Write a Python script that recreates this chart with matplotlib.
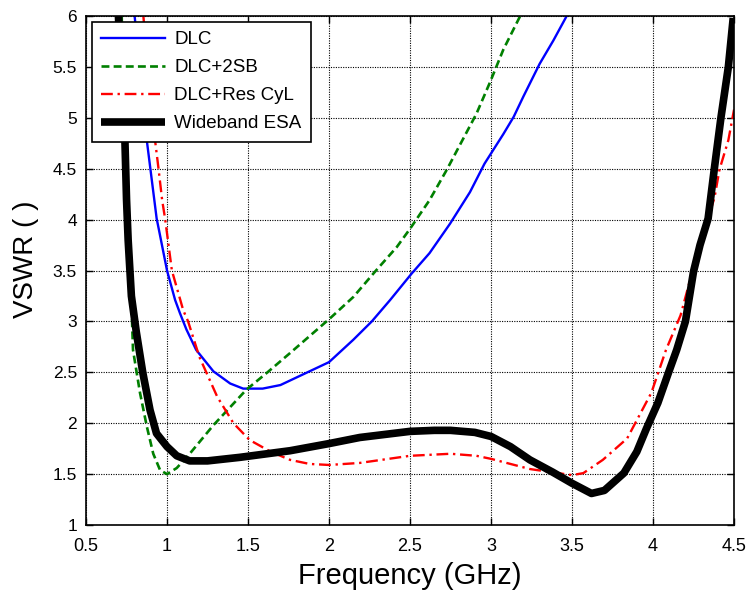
import matplotlib
matplotlib.use("Agg")
import matplotlib.pyplot as plt

plt.rcParams["font.family"] = ["Liberation Sans", "DejaVu Sans"]

# DLC
dlc_f = [0.80, 0.875, 0.936, 0.95, 1.00, 1.05, 1.08, 1.12, 1.18, 1.286, 1.39, 1.47,
         1.59, 1.70, 1.76, 1.88, 2.00, 2.15, 2.264, 2.377, 2.51, 2.62, 2.747, 2.87,
         2.96, 3.076, 3.14, 3.20, 3.30, 3.385, 3.467]
dlc_v = [6.00, 4.78, 4.01, 3.90, 3.50, 3.21, 3.08, 2.92, 2.72, 2.51, 2.39, 2.34,
         2.34, 2.375, 2.42, 2.51, 2.60, 2.82, 3.00, 3.21, 3.47, 3.67, 3.96, 4.27,
         4.55, 4.84, 5.01, 5.21, 5.53, 5.76, 6.00]

# DLC+2SB
sb_f = [0.72, 0.74, 0.76, 0.78, 0.79, 0.833, 0.875, 0.915, 0.957, 1.00, 1.06, 1.14,
        1.286, 1.49, 1.62, 1.76, 2.006, 2.15, 2.29, 2.418, 2.50, 2.62, 2.727, 2.83,
        2.91, 2.994, 3.076, 3.18]
sb_v = [6.00, 5.00, 4.00, 3.20, 2.72, 2.30, 1.97, 1.70, 1.54, 1.50, 1.56, 1.70,
        1.98, 2.33, 2.50, 2.69, 3.03, 3.24, 3.50, 3.73, 3.91, 4.19, 4.49, 4.80,
        5.04, 5.35, 5.67, 6.00]

# DLC+Res CyL
res_f = [0.854, 0.89, 0.926, 0.946, 0.97, 0.988, 1.03, 1.10, 1.13, 1.20, 1.31, 1.41,
         1.51, 1.64, 1.76, 1.88, 2.00, 2.19, 2.50, 2.75, 2.91, 3.00, 3.24, 3.50,
         3.57, 3.69, 3.84, 3.99, 4.08, 4.17, 4.27, 4.38, 4.41, 4.465, 4.50]
res_v = [6.00, 5.30, 4.78, 4.52, 4.19, 4.01, 3.50, 3.11, 3.00, 2.65, 2.26, 2.00,
         1.835, 1.72, 1.64, 1.60, 1.59, 1.61, 1.68, 1.70, 1.68, 1.65, 1.55, 1.49,
         1.51, 1.64, 1.85, 2.30, 2.72, 3.06, 3.65, 4.22, 4.49, 4.78, 5.08]

# Wideband ESA
esa_f = [0.70, 0.72, 0.74, 0.75, 0.76, 0.78, 0.81, 0.85, 0.895, 0.935, 1.00, 1.06,
         1.14, 1.25, 1.45, 1.76, 2.00, 2.19, 2.50, 2.65, 2.75, 2.90, 3.00, 3.12,
         3.24, 3.38, 3.50, 3.62, 3.70, 3.82, 3.90, 3.96, 4.03, 4.094, 4.146, 4.20,
         4.25, 4.29, 4.34, 4.38, 4.42, 4.465, 4.495]
esa_v = [6.00, 5.35, 4.78, 4.20, 3.80, 3.25, 2.90, 2.50, 2.13, 1.90, 1.77, 1.68,
         1.63, 1.63, 1.665, 1.73, 1.80, 1.86, 1.92, 1.93, 1.93, 1.91, 1.87, 1.77,
         1.64, 1.52, 1.41, 1.31, 1.34, 1.51, 1.72, 1.95, 2.20, 2.49, 2.72, 3.00,
         3.49, 3.75, 4.01, 4.52, 5.01, 5.50, 5.98]

x_ticks = [0.5, 1, 1.5, 2, 2.5, 3, 3.5, 4, 4.5]
x_labels = ["0.5", "1", "1.5", "2", "2.5", "3", "3.5", "4", "4.5"]
y_ticks = [1, 1.5, 2, 2.5, 3, 3.5, 4, 4.5, 5, 5.5, 6]
y_labels = ["1", "1.5", "2", "2.5", "3", "3.5", "4", "4.5", "5", "5.5", "6"]

fig = plt.figure(figsize=(7.5, 5.95), dpi=100)
ax = fig.add_axes([0.1147, 0.1176, 0.864, 0.8555])

ax.plot(dlc_f, dlc_v, color="blue", lw=1.7, label="DLC")
ax.plot(sb_f, sb_v, color="green", lw=1.9, ls=(0, (3, 1.6)), label="DLC+2SB")
ax.plot(res_f, res_v, color="red", lw=1.7, ls=(0, (5, 2, 1, 2)), label="DLC+Res CyL")
ax.plot(esa_f, esa_v, color="black", lw=5.5, solid_joinstyle="round",
        solid_capstyle="butt", label="Wideband ESA")

ax.set_xlim(0.5, 4.5)
ax.set_ylim(1, 6)
ax.set_xticks(x_ticks)
ax.set_xticklabels(x_labels, fontsize=13)
ax.set_yticks(y_ticks)
ax.set_yticklabels(y_labels, fontsize=12.5)
ax.tick_params(direction="in", top=True, right=True, length=5, width=1)
ax.tick_params(axis="x", pad=9.5)
ax.tick_params(axis="y", pad=6.5)
ax.grid(True, color="black", ls=(0, (1, 1.2)), lw=0.8)
for s in ax.spines.values():
    s.set_linewidth(1.2)

ax.set_xlabel("Frequency (GHz)", fontsize=21, labelpad=5)
ax.set_ylabel("VSWR ( )", fontsize=20)
ax.yaxis.set_label_coords(-0.072, 0.523)

leg = ax.legend(loc="upper left", fontsize=13.5, handlelength=3.4, labelspacing=0.58,
                borderaxespad=0.3, fancybox=False, framealpha=1, edgecolor="black",
                borderpad=0.5, handletextpad=0.5)
leg.get_frame().set_linewidth(1.2)

fig.savefig("out.png", dpi=100)
